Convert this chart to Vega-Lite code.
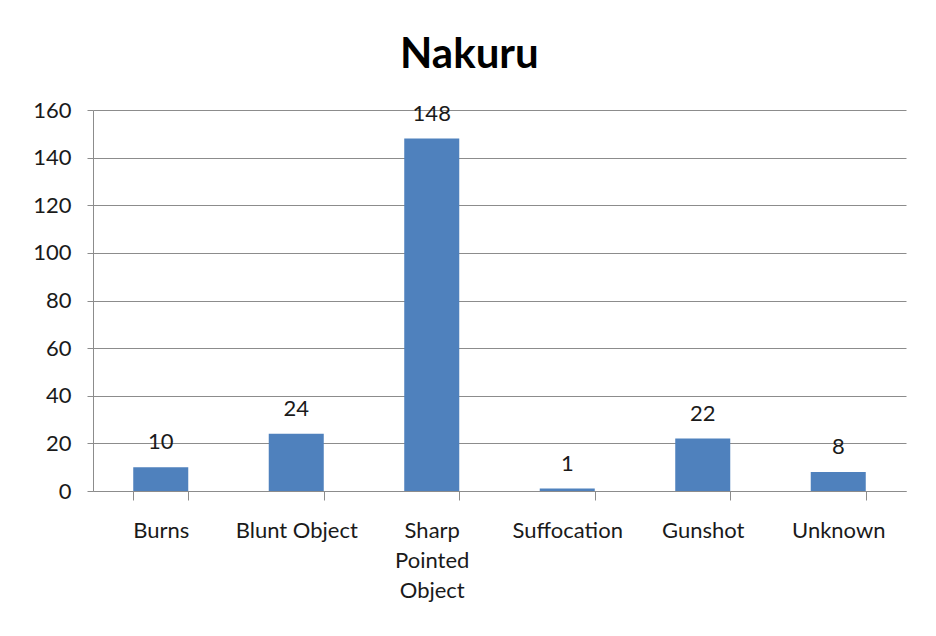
{
  "$schema": "https://vega.github.io/schema/vega-lite/v6.json",
  "autosize": {"type": "none"},
  "width": 813,
  "height": 381,
  "padding": {"left": 93, "top": 110, "right": 30, "bottom": 144},
  "background": "white",
  "title": {"text": "Nakuru", "font": "Lato", "fontSize": 42, "fontWeight": "bold", "color": "#000000", "offset": 22, "frame": "bounds", "anchor": "middle"},
  "data": {"values": [
    {"cause": "Burns", "count": 10},
    {"cause": "Blunt Object", "count": 24},
    {"cause": "Sharp Pointed Object", "count": 148},
    {"cause": "Suffocation", "count": 1},
    {"cause": "Gunshot", "count": 22},
    {"cause": "Unknown", "count": 8}
  ]},
  "config": {"view": {"stroke": null}, "font": "Lato"},
  "encoding": {
    "x": {"field": "cause", "type": "nominal", "sort": null,
      "scale": {"paddingInner": 0.594, "paddingOuter": 0.297},
      "axis": {"title": null, "labelAngle": 0, "labelFont": "Lato", "labelFontSize": 22, "labelColor": "#1a1a1a",
        "labelPadding": 20, "tickSize": 9, "tickBand": "extent", "domainColor": "#8c8c8c", "tickColor": "#8c8c8c",
        "labelLineHeight": 30, "labelBaseline": "top",
        "labelExpr": "datum.value == 'Sharp Pointed Object' ? split(datum.value, ' ') : datum.value"}},
    "y": {"field": "count", "type": "quantitative",
      "scale": {"domain": [0, 160]},
      "axis": {"title": null, "values": [0, 20, 40, 60, 80, 100, 120, 140, 160], "labelFont": "Lato", "labelFontSize": 22, "labelColor": "#1a1a1a",
        "labelPadding": 16, "tickSize": 6, "domainColor": "#8c8c8c", "tickColor": "#8c8c8c", "gridColor": "#8c8c8c", "gridOpacity": 1}}
  },
  "layer": [
    {"mark": {"type": "bar", "color": "#4f81bd"}},
    {"mark": {"type": "text", "dy": -25, "baseline": "middle", "font": "Lato", "fontSize": 22, "color": "#1a1a1a"},
      "encoding": {"text": {"field": "count", "type": "quantitative"}}}
  ]
}
